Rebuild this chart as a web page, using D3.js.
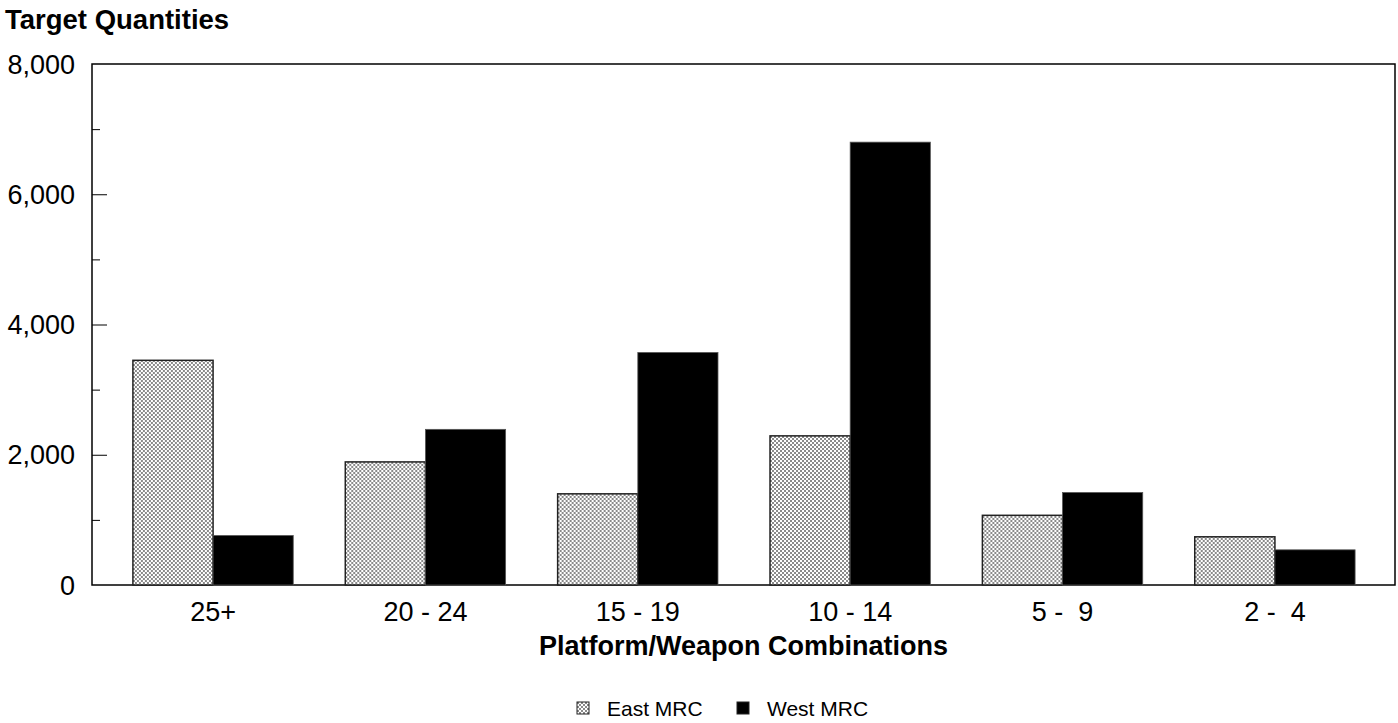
<!DOCTYPE html>
<html>
<head>
<meta charset="utf-8">
<script src="https://cdn.jsdelivr.net/npm/d3@7"></script>
<style>
  html, body { margin: 0; padding: 0; background: #fff; }
  svg { display: block; font-family: "Liberation Sans", Arial, sans-serif; }
</style>
</head>
<body>
<svg id="chart" width="1398" height="723"></svg>
<script>
const categories = ['25+', '20 - 24', '15 - 19', '10 - 14', '5 -  9', '2 -  4'];
const eastMRC = [3450, 1890, 1400, 2290, 1070, 740];
const westMRC = [760, 2390, 3570, 6800, 1420, 540];
const seriesNames = ['East MRC', 'West MRC'];
const yTicks = [0, 2000, 4000, 6000, 8000];

const svg = d3.select('#chart');
const plot = { left: 92, right: 1395, top: 64, bottom: 585 };

// checker pattern for East bars
const defs = svg.append('defs');
const pat = defs.append('pattern').attr('id', 'checker')
  .attr('patternUnits', 'userSpaceOnUse').attr('width', 4).attr('height', 4);
pat.append('rect').attr('width', 4).attr('height', 4).attr('fill', '#fff');
pat.append('rect').attr('width', 2).attr('height', 2).attr('fill', '#8a8a8a');
pat.append('rect').attr('x', 2).attr('y', 2).attr('width', 2).attr('height', 2).attr('fill', '#8a8a8a');

const y = d3.scaleLinear().domain([0, 8000]).range([plot.bottom, plot.top]);
const x = d3.scaleBand().domain(categories).range([107, 1381]).paddingInner(0.245).paddingOuter(0.122);
const xs = d3.scaleBand().domain(seriesNames).range([0, x.bandwidth()]);

// title
svg.append('text').attr('x', 5).attr('y', 29).attr('font-size', 27.5).attr('font-weight', 700)
  .text('Target Quantities');

// plot frame
svg.append('rect').attr('x', plot.left).attr('y', plot.top)
  .attr('width', plot.right - plot.left).attr('height', plot.bottom - plot.top)
  .attr('fill', 'none').attr('stroke', '#000').attr('stroke-width', 1.5);

// y axis ticks inside the frame: long at labelled values, short between
const minor = svg.append('g').attr('transform', `translate(${plot.left},0)`)
  .call(d3.axisRight(y).tickValues([1000, 3000, 5000, 7000]).tickSize(8).tickFormat(''));
const major = svg.append('g').attr('transform', `translate(${plot.left},0)`)
  .call(d3.axisRight(y).tickValues([2000, 4000, 6000]).tickSize(15).tickFormat(''));
[minor, major].forEach(a => { a.select('.domain').remove(); a.selectAll('line').attr('stroke', '#000'); });

svg.append('g').selectAll('text').data(yTicks).join('text')
  .attr('x', 75).attr('y', d => y(d)).attr('dy', '0.36em')
  .attr('text-anchor', 'end').attr('font-size', 27).text(d => d3.format(',')(d));

// bars
const rows = categories.map((c, i) => ({ cat: c, vals: [eastMRC[i], westMRC[i]] }));
const g = svg.append('g').selectAll('g').data(rows).join('g')
  .attr('transform', d => `translate(${x(d.cat)},0)`);
g.selectAll('rect').data(d => d.vals.map((v, j) => ({ s: seriesNames[j], v }))).join('rect')
  .attr('x', d => xs(d.s)).attr('width', xs.bandwidth())
  .attr('y', d => y(d.v)).attr('height', d => y(0) - y(d.v))
  .attr('fill', d => d.s === 'East MRC' ? 'url(#checker)' : '#000')
  .attr('stroke', d => d.s === 'East MRC' ? '#222' : '#555')
  .attr('stroke-width', d => d.s === 'East MRC' ? 1.5 : 0.8);

// category labels
svg.append('g').selectAll('text').data(categories).join('text')
  .attr('x', d => x(d) + x.bandwidth() / 2).attr('y', 621)
  .attr('text-anchor', 'middle').attr('font-size', 27)
  .style('white-space', 'pre').text(d => d);

svg.append('text').attr('x', (plot.left + plot.right) / 2).attr('y', 655)
  .attr('text-anchor', 'middle').attr('font-size', 27).attr('font-weight', 700)
  .text('Platform/Weapon Combinations');

// legend
const leg = svg.append('g').attr('transform', 'translate(577,702)');
const items = leg.selectAll('g').data(seriesNames).join('g')
  .attr('transform', (d, i) => `translate(${i * 160},0)`);
items.append('rect').attr('width', 12).attr('height', 12)
  .attr('fill', d => d === 'East MRC' ? 'url(#checker)' : '#000')
  .attr('stroke', '#222').attr('stroke-width', 1);
items.append('text').attr('x', 30).attr('y', 14).attr('font-size', 21).text(d => d);
</script>
</body>
</html>
